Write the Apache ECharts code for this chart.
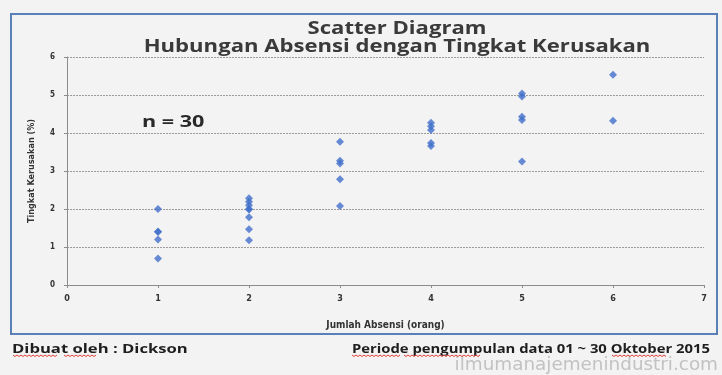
<!DOCTYPE html>
<html>
<head>
<meta charset="utf-8">
<script src="https://cdn.jsdelivr.net/npm/echarts@6/dist/echarts.min.js"></script>
<style>
html,body{margin:0;padding:0;background:#f3f3f4;}
#chart{width:722px;height:375px;}
</style>
</head>
<body>
<div id="chart"></div>
<script>
// Data
const absensi =    [1, 1, 1, 1, 1, 2, 2, 2, 2, 2, 2, 2, 2, 3, 3, 3, 3, 3, 4, 4, 4, 4, 4, 5, 5, 5, 5, 5, 6, 6];
const kerusakan =  [2.0, 1.4, 1.4, 1.2, 0.7, 2.28, 2.19, 2.1, 2.0, 1.99, 1.78, 1.47, 1.18, 3.77, 3.27, 3.2, 2.78, 2.08, 4.27, 4.18, 4.08, 3.74, 3.66, 5.04, 4.96, 4.43, 4.34, 3.25, 5.53, 4.32];
const xTicks = [0, 1, 2, 3, 4, 5, 6, 7];
const yTicks = [0, 1, 2, 3, 4, 5, 6];
const titleLines = ['Scatter Diagram', 'Hubungan Absensi dengan Tingkat Kerusakan'];
const xName = 'Jumlah Absensi (orang)';
const yName = 'Tingkat Kerusakan (%)';
const annotation = 'n = 30';
const footerLeft = 'Dibuat oleh : Dickson';
const footerRight = 'Periode pengumpulan data 01 ~ 30 Oktober 2015';
const watermark = 'ilmumanajemenindustri.com';

const points = absensi.map((x, i) => [x, kerusakan[i]]);
const font = '"Open Sans", sans-serif';
const narrow = '"DejaVu Sans Condensed", "DejaVu Sans", sans-serif';

// spell-check style squiggle under a word (decoration only)
function squiggle(x1, x2, y) {
  const pts = [];
  let up = true;
  for (let x = x1; x <= x2; x += 2) { pts.push([x, up ? y : y + 1.5]); up = !up; }
  return { type: 'polyline', shape: { points: pts }, style: { stroke: '#e0403a', lineWidth: 1, fill: 'none' }, z: 20 };
}

const chart = echarts.init(document.getElementById('chart'));
chart.setOption({
  backgroundColor: '#f3f3f4',
  animation: false,
  grid: { left: 67, right: 18, top: 57, bottom: 90 },
  xAxis: {
    type: 'value', min: xTicks[0], max: xTicks[xTicks.length - 1], interval: 1,
    name: xName, nameLocation: 'middle', nameGap: 35,
    nameTextStyle: { fontFamily: narrow, fontWeight: 'bold', fontSize: 10, color: '#333' },
    axisLine: { lineStyle: { color: '#8c8c8c', width: 1 } },
    axisTick: { show: true, length: 3, lineStyle: { color: '#8c8c8c' } },
    axisLabel: { fontFamily: narrow, fontWeight: 'bold', fontSize: 9, color: '#333', margin: 9 },
    splitLine: { show: false }
  },
  yAxis: {
    type: 'value', min: yTicks[0], max: yTicks[yTicks.length - 1], interval: 1,
    name: yName, nameLocation: 'middle', nameGap: 31, nameRotate: 90,
    nameTextStyle: { fontFamily: narrow, fontWeight: 'bold', fontSize: 9, color: '#333' },
    axisLine: { show: true, lineStyle: { color: '#8c8c8c', width: 1 } },
    axisTick: { show: true, length: 3, lineStyle: { color: '#8c8c8c' } },
    axisLabel: { fontFamily: narrow, fontWeight: 'bold', fontSize: 8, color: '#333', margin: 12 },
    splitLine: { show: true, lineStyle: { color: '#a09a98', width: 1, type: [2, 1] } }
  },
  series: [{
    type: 'scatter',
    data: points,
    symbol: 'diamond',
    symbolSize: 8,
    itemStyle: { color: '#416fcb' }
  }],
  graphic: [
    { type: 'rect', shape: { x: 11, y: 14, width: 706, height: 320 }, style: { fill: 'none', stroke: '#5a80b8', lineWidth: 2 }, z: 10 },
    { type: 'text', x: 397, y: 29, scaleX: 1.3, style: { text: titleLines[0], align: 'center', verticalAlign: 'middle', fontFamily: font, fontWeight: 'bold', fontSize: 17, fill: '#3a3a3a' } },
    { type: 'text', x: 397, y: 47, scaleX: 1.3, style: { text: titleLines[1], align: 'center', verticalAlign: 'middle', fontFamily: font, fontWeight: 'bold', fontSize: 17, fill: '#3a3a3a' } },
    { type: 'text', x: 142, y: 122, scaleX: 1.35, style: { text: annotation, verticalAlign: 'middle', fontFamily: font, fontWeight: 'bold', fontSize: 16, fill: '#2a2a2a' } },
    { type: 'text', x: 12, y: 349, scaleX: 1.28, style: { text: footerLeft, verticalAlign: 'middle', fontFamily: font, fontWeight: 'bold', fontSize: 13, fill: '#1e1e1e' } },
    { type: 'text', x: 352, y: 349, scaleX: 1.14, style: { text: footerRight, verticalAlign: 'middle', fontFamily: font, fontWeight: 'bold', fontSize: 13, fill: '#1e1e1e' } },
    { type: 'text', x: 718, y: 366, scaleX: 1.08, style: { text: watermark, align: 'right', verticalAlign: 'middle', fontFamily: '"DejaVu Sans", sans-serif', fontSize: 17, fill: '#c2c2c2' } },
    squiggle(13, 58, 355), squiggle(64, 96, 355),
    squiggle(352, 400, 355), squiggle(404, 480, 355), squiggle(612, 666, 355)
  ]
});
</script>
</body>
</html>
